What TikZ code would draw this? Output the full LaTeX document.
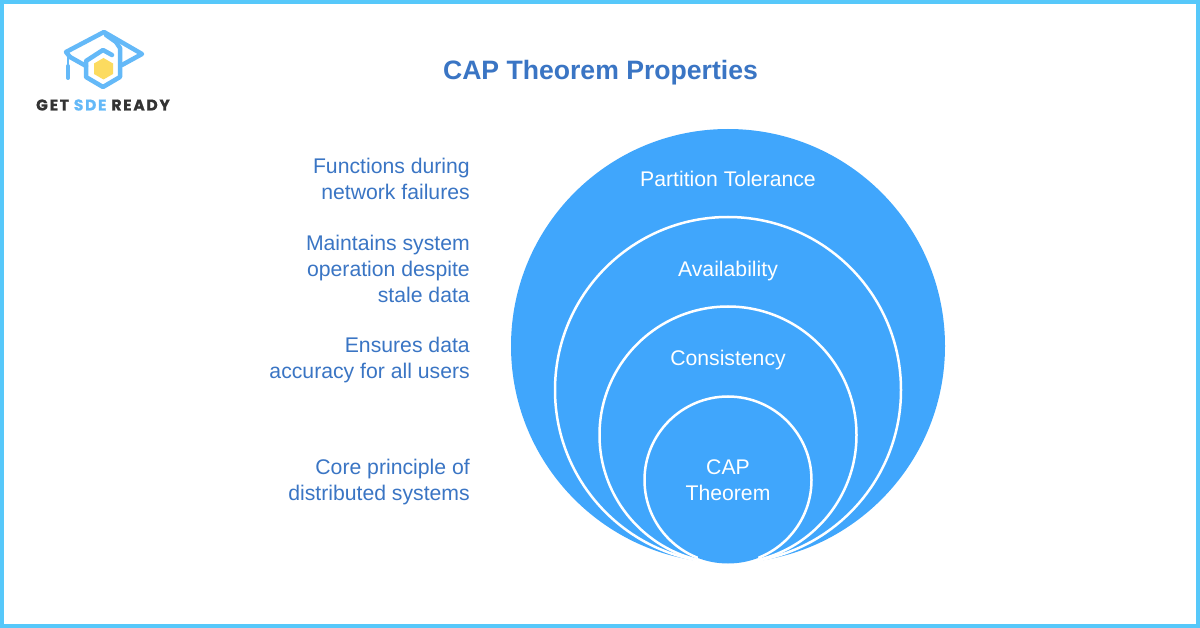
\documentclass[tikz,border=0pt]{standalone}
\usepackage{fontspec}
\setmainfont{Liberation Sans}
\newfontfamily\logofont[LetterSpace=11,BoldFeatures={FakeBold=0.8}]{Poppins}
\definecolor{capblue}{HTML}{40A6FC}
\definecolor{textblue}{HTML}{3A75C4}
\definecolor{frameblue}{HTML}{56C8FA}
\definecolor{logoblue}{HTML}{64B9F8}
\definecolor{logoyellow}{HTML}{FCDB5F}
\definecolor{logodark}{HTML}{333333}

\begin{document}
\begin{tikzpicture}[
    x=1pt, y=-1pt,
    font=\fontsize{21.2}{25.8}\selectfont,
    bubble/.style={
      draw=white,
      line width=2.5pt,
      fill=capblue
    },
    inbubble/.style={
      text=white,
      align=center
    },
    property/.style={
      text=textblue,
      align=right,
      anchor=east
    },
    logoline/.style={
      draw=logoblue,
      line width=4.5pt,
      line join=round,
      line cap=round
    }
  ]
  \useasboundingbox (0,0) rectangle (1200,628);

  % Frame
  \fill[white] (0,0) rectangle (1200,628);
  \draw[frameblue, line width=4pt] (2,2) rectangle (1198,626);

  % Logo
  \fill[logoyellow] (103.5,58) -- (113,63.5) -- (113,74) -- (103.5,79.5) -- (94,74) -- (94,63.5) -- cycle;
  \draw[logoline] (70,57) -- (66,52) -- (104,32) -- (142,54) -- (122,65);
  \draw[logoline] (106,35) -- (116,42) -- (120,48) -- (120,77) -- (103,87) -- (86,77) -- (86,61) -- (103,50) -- (112,55);
  \draw[logoline] (70,57) -- (86,66);
  \draw[logoline, line width=2.5pt] (68,56) -- (68,66);
  \draw[logoline, line width=4pt] (68,66) -- (68,78);
  \node[font=\logofont\bfseries\fontsize{15.5}{16}\selectfont, text=logodark, inner sep=0pt] (logotext) at (103,105) {GET \textcolor{logoblue}{SDE} READY};

  % Title
  \node[font=\bfseries\fontsize{26.6}{30}\selectfont, text=textblue] (title) at (600.5,73) {CAP Theorem Properties};

  % Bubbles
  \fill[capblue] (728,346) circle (217);
  \node[circle, minimum size=346pt, inner sep=0pt, bubble] (availability) at (728,390) {};
  \node[circle, minimum size=257pt, inner sep=0pt, bubble] (consistency) at (728,435) {};
  \node[circle, minimum size=167pt, inner sep=0pt, bubble] (cap) at (728,480) {};
  \begin{scope}
    \clip (698,556) rectangle (758,570);
    \fill[capblue] (728,479) circle (84.5);
  \end{scope}

  % Bubble labels
  \node[inbubble] (ptlabel) at (728,179) {Partition Tolerance};
  \node[inbubble] (avlabel) at (728,271) {Availability};
  \node[inbubble] (colabel) at (728,360) {Consistency};
  \node[inbubble] (caplabel) at (728,480) {CAP\\Theorem};

  % Left
  \node[property] (ptnote) at (473.3,179) {Functions during\\network failures};
  \node[property] (avnote) at (473.3,269) {Maintains system\\operation despite\\stale data};
  \node[property] (conote) at (473.3,360) {Ensures data\\accuracy for all users};
  \node[property] (capnote) at (473.3,482) {Core principle of\\distributed systems};
\end{tikzpicture}
\end{document}
